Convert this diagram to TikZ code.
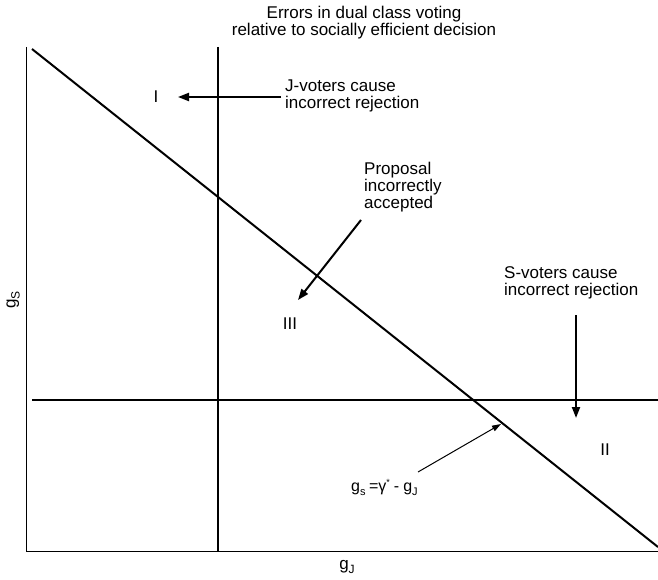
\documentclass[tikz,border=0pt]{standalone}
\usepackage{fontspec}
\setmainfont{Liberation Sans}
\usetikzlibrary{arrows.meta}
\newcommand{\mysub}[1]{\raisebox{-4pt}{\fontsize{12}{12}\selectfont #1}}
\newcommand{\fsub}[1]{\raisebox{-4pt}{\fontsize{11}{11}\selectfont #1}}
\begin{document}
\begin{tikzpicture}[x=1pt,y=-1pt,
  lbl/.style={font=\fontsize{17}{17}\selectfont, inner sep=0pt},
  flbl/.style={font=\fontsize{16}{16}\selectfont, inner sep=0pt},
  thickline/.style={line width=2pt},
  axis/.style={line width=1pt},
  bigarrow/.style={line width=2pt,-{Triangle[length=11pt,width=8pt]}},
  thinarrow/.style={line width=1pt,-{Triangle[length=9pt,width=6pt]}}]
\useasboundingbox (0,0) rectangle (658,580);
% axes
\coordinate (O) at (26,551);
\coordinate (Ytop) at (26,47);
\coordinate (Xend) at (658,551);
\draw[axis] (Ytop) -- (O) -- (Xend);
% main lines
\coordinate (Vtop) at (218,47);
\coordinate (Vbot) at (218,551);
\draw[thickline] (Vtop) -- (Vbot);
\coordinate (Hl) at (32,400);
\coordinate (Hr) at (658,400);
\draw[thickline] (Hl) -- (Hr);
\coordinate (Dtop) at (32,49);
\coordinate (Dbot) at (658,547);
\draw[thickline] (Dtop) -- (Dbot);
% title
\node[lbl, align=center] (title) at (364,23) {Errors in dual class voting\\relative to socially efficient decision};
% region labels
\node[lbl] (r1) at (156,97) {I};
\node[lbl] (r3) at (290,324) {III};
\node[lbl] (r2) at (605,450) {II};
% J-voters
\node[lbl, align=left, anchor=west] (jv) at (285,96) {J-voters cause\\incorrect rejection};
\coordinate (ja) at (281,97);
\draw[bigarrow] (ja) -- (178,97);
% Proposal
\node[lbl, align=left, anchor=west] (prop) at (364,187) {Proposal\\incorrectly\\accepted};
\coordinate (pa) at (361,220);
\coordinate (pb) at (298,300);
\draw[bigarrow] (pa) -- (pb);
% S-voters
\node[lbl, align=left, anchor=west] (sv) at (504,283) {S-voters cause\\incorrect rejection};
\coordinate (sa) at (576,315);
\coordinate (sb) at (576,418);
\draw[bigarrow] (sa) -- (sb);
% formula
\node[flbl, anchor=west] (form) at (351,487) {g\fsub{s}\hspace{3.5pt}=γ\raisebox{6pt}{\fontsize{9}{9}\selectfont *}\hspace{4pt}-\hspace{4pt}g\fsub{J}};
\coordinate (fa) at (418,472);
\coordinate (fb) at (501,424);
\draw[thinarrow] (fa) -- (fb);
% axis labels
\node[lbl] (xl) at (347,567) {g\mysub{J}};
\node[lbl, rotate=90] (yl) at (13,300) {g\mysub{S}};
\end{tikzpicture}
\end{document}
